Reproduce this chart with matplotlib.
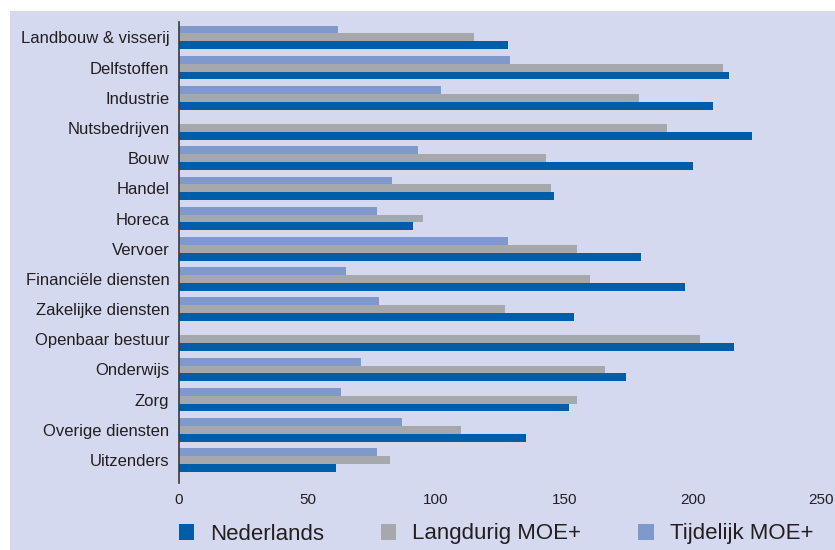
import matplotlib
matplotlib.use("Agg")
import matplotlib.pyplot as plt
from matplotlib.patches import Rectangle, Patch
import numpy as np

# sectoren, van boven naar beneden
sectoren = ["Landbouw & visserij", "Delfstoffen", "Industrie", "Nutsbedrijven",
            "Bouw", "Handel", "Horeca", "Vervoer", "Financiële diensten",
            "Zakelijke diensten", "Openbaar bestuur", "Onderwijs", "Zorg",
            "Overige diensten", "Uitzenders"]

nederlands = [128, 214, 208, 223, 200, 146, 91, 180, 197, 154, 216, 174, 152, 135, 61]
langdurig = [115, 212, 179, 190, 143, 145, 95, 155, 160, 127, 203, 166, 155, 110, 82]
tijdelijk = [62, 129, 102, 0, 93, 83, 77, 128, 65, 78, 0, 71, 63, 87, 77]

series_namen = ["Nederlands", "Langdurig MOE+", "Tijdelijk MOE+"]
kleuren = ["#005ea8", "#a7a8ab", "#7f99cc"]
achtergrond = "#d4d9ef"
tekstkleur = "#231f20"

plt.rcParams["font.family"] = ["Liberation Sans", "DejaVu Sans"]

W, H = 835, 550
fig = plt.figure(figsize=(W / 100, H / 100), dpi=100, facecolor="white")

# lavendel paneel achter de grafiek
fig.patches.append(Rectangle((10 / W, 0), 1 - 10 / W, 1 - 11 / H,
                             transform=fig.transFigure, facecolor=achtergrond,
                             edgecolor="none", zorder=-10))

ax = fig.add_axes([179 / W, 1 - 483 / H, (821 - 179) / W, (483 - 22) / H])
ax.set_facecolor("none")

y = np.arange(len(sectoren))
h = 0.26
ax.barh(y - h, tijdelijk, height=h, color=kleuren[2], zorder=2)
ax.barh(y, langdurig, height=h, color=kleuren[1], zorder=2)
ax.barh(y + h, nederlands, height=h, color=kleuren[0], zorder=2)

ax.set_xlim(0, 250)
ax.set_ylim(len(sectoren) - 1 + 0.76, -0.51)
ax.set_yticks(y)
ax.set_yticklabels(sectoren, fontsize=12, color=tekstkleur)
ax.set_xticks([0, 50, 100, 150, 200, 250])
for lab in ax.get_xticklabels():
    lab.set_family(["Liberation Sans Narrow", "Liberation Sans"])
    lab.set_fontsize(11)
    lab.set_color(tekstkleur)
ax.tick_params(axis="y", length=0, pad=7)
ax.tick_params(axis="x", length=0, pad=7)

for s in ["top", "right", "bottom"]:
    ax.spines[s].set_visible(False)
ax.spines["left"].set_color("#3a3a3a")
ax.spines["left"].set_linewidth(1.2)

handles = [Patch(facecolor=k, edgecolor="none") for k in kleuren]
fig.legend(handles, series_namen, loc="center left",
           bbox_to_anchor=(179 / W, 1 - 534 / H), ncol=3, frameon=False,
           fontsize=16, handlelength=0.68, handleheight=0.7,
           handletextpad=0.72, columnspacing=2.57, borderpad=0,
           borderaxespad=0, labelcolor=tekstkleur)

fig.savefig("out.png", dpi=100, facecolor="white")
